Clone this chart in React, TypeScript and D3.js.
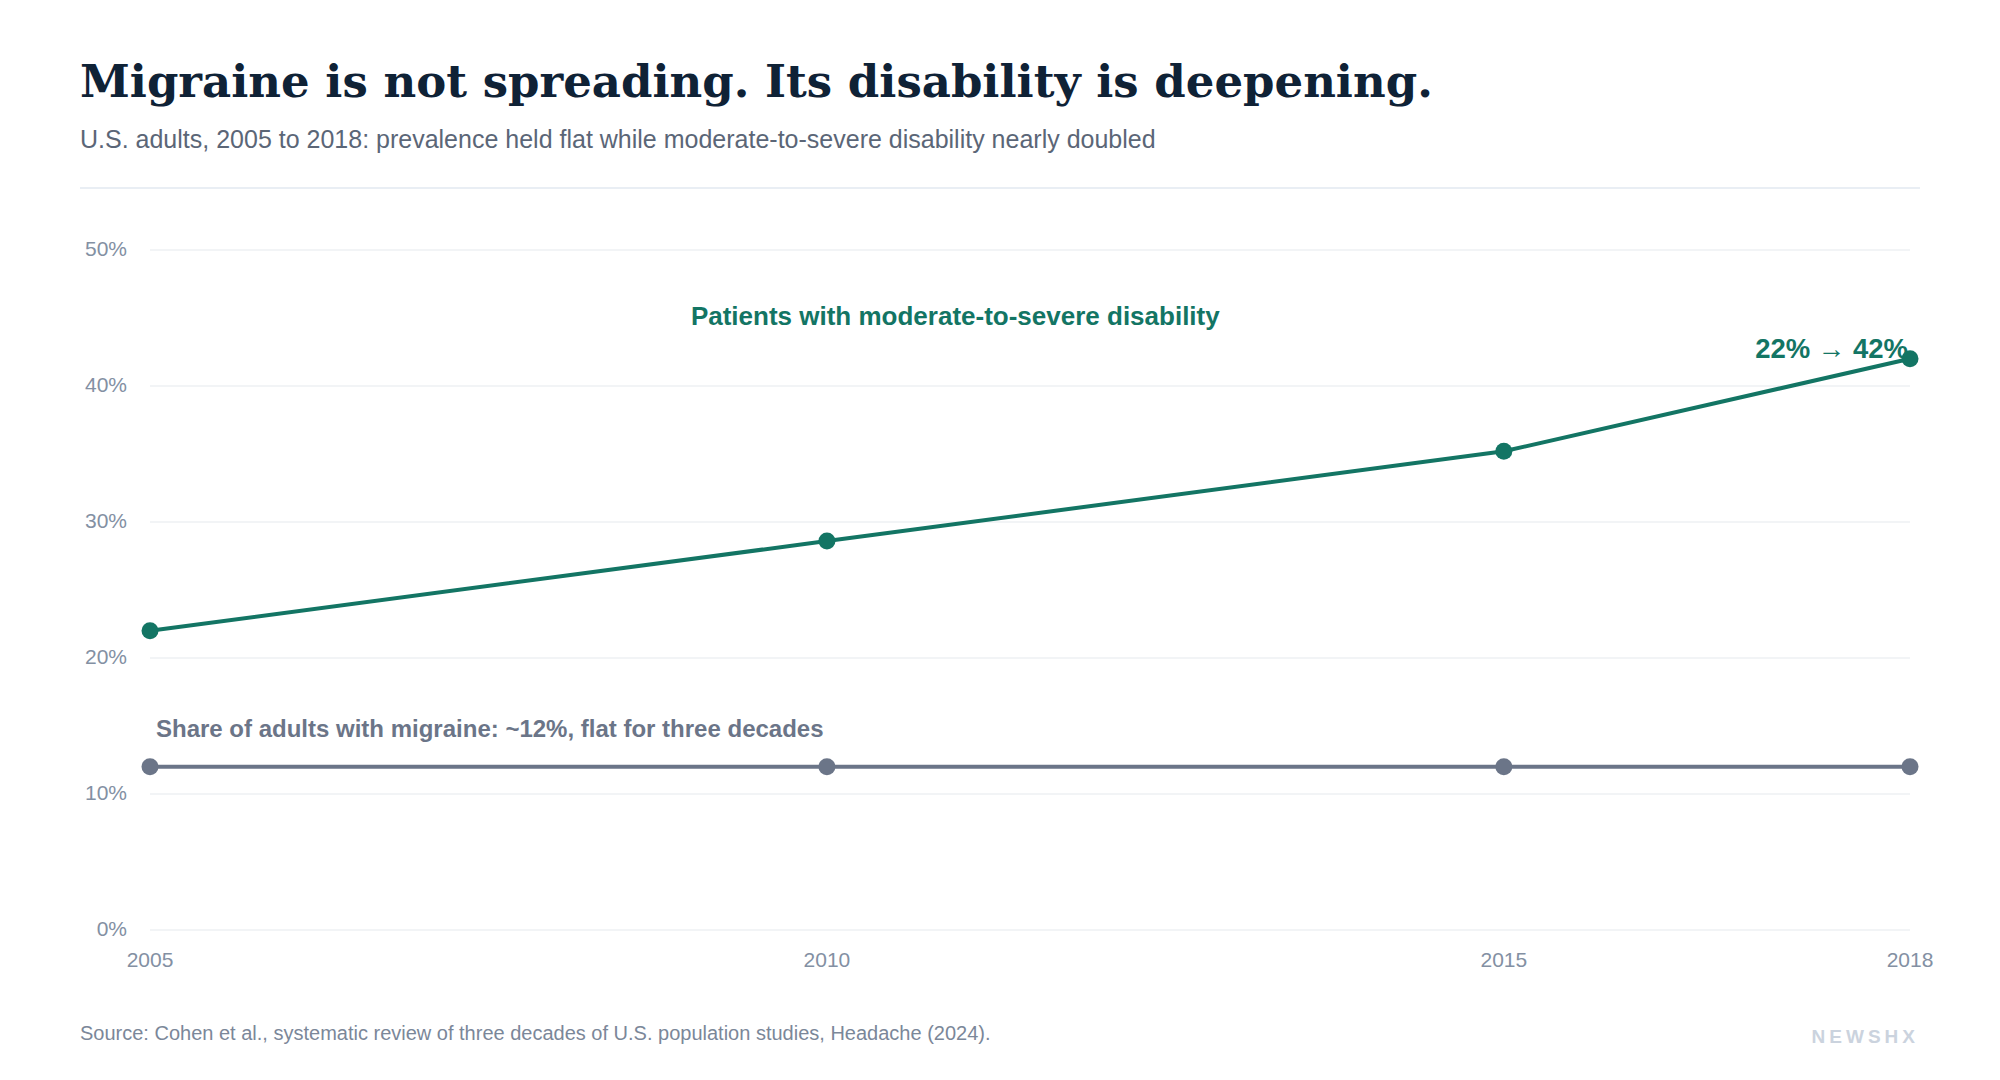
import React from 'react';
import * as d3 from 'd3';

const years = [2005, 2010, 2015, 2018];
const disabilityShare = [22, 28.6, 35.2, 42];
const migraineShare = [12, 12, 12, 12];
const yTicks = [0, 10, 20, 30, 40, 50];

const WIDTH = 2000;
const HEIGHT = 1080;
const GREEN = '#137564';
const SLATE = '#6b7588';
const SANS = "'Liberation Sans', Arial, Helvetica, sans-serif";

const Series = ({ values, color, x, y }) => {
  const line = d3
    .line()
    .x((d, i) => x(years[i]))
    .y((d) => y(d));
  return (
    <g>
      <path d={line(values)} fill="none" stroke={color} strokeWidth="4" strokeLinejoin="round" />
      {values.map((v, i) => (
        <circle key={i} cx={x(years[i])} cy={y(v)} r="8.5" fill={color} />
      ))}
    </g>
  );
};

const App = () => {
  const x = d3.scaleLinear().domain([2005, 2018]).range([150, 1910]);
  const y = d3.scaleLinear().domain([0, 50]).range([930, 250]);
  const last = disabilityShare.length - 1;

  return (
    <div style={{ position: 'fixed', left: 0, top: 0, background: '#fff' }}>
      <svg width={WIDTH} height={HEIGHT} style={{ display: 'block' }}>
        <rect width={WIDTH} height={HEIGHT} fill="#fff" />
        <text
          x="80"
          y="97"
          fontFamily="'DejaVu Serif', Georgia, serif"
          fontWeight="bold"
          fontSize="45"
          fill="#0f2236"
        >
          Migraine is not spreading. Its disability is deepening.
        </text>
        <text x="80" y="148" fontFamily={SANS} fontSize="25" fill="#5b6677">
          U.S. adults, 2005 to 2018: prevalence held flat while moderate-to-severe disability nearly doubled
        </text>
        <line x1="80" x2="1920" y1="188" y2="188" stroke="#e2e8f0" strokeWidth="1.5" />

        {/* grid + y axis */}
        {yTicks.map((t) => (
          <g key={t}>
            <line x1={x(2005)} x2={x(2018)} y1={y(t)} y2={y(t)} stroke="#eef0f3" strokeWidth="1.5" />
            <text
              x="127"
              y={y(t)}
              dy="0.28em"
              textAnchor="end"
              fontFamily={SANS}
              fontSize="21"
              fill="#8390a3"
            >
              {t}%
            </text>
          </g>
        ))}

        {/* x axis labels */}
        {years.map((yr) => (
          <text
            key={yr}
            x={x(yr)}
            y="967"
            textAnchor="middle"
            fontFamily={SANS}
            fontSize="21"
            fill="#8390a3"
          >
            {yr}
          </text>
        ))}

        <Series values={migraineShare} color={SLATE} x={x} y={y} />
        <Series values={disabilityShare} color={GREEN} x={x} y={y} />

        <text
          x={x(2011) - 7}
          y="325"
          textAnchor="middle"
          fontFamily={SANS}
          fontWeight="bold"
          fontSize="26"
          fill={GREEN}
        >
          Patients with moderate-to-severe disability
        </text>
        <text
          x={x(years[last]) - 2}
          y={y(disabilityShare[last]) - 1}
          textAnchor="end"
          fontFamily={SANS}
          fontWeight="bold"
          fontSize="27.5"
          fill={GREEN}
        >
          {disabilityShare[0]}% → {disabilityShare[last]}%
        </text>
        <text
          x="156"
          y="737"
          fontFamily={SANS}
          fontWeight="bold"
          fontSize="24"
          fill={SLATE}
        >
          Share of adults with migraine: ~{migraineShare[0]}%, flat for three decades
        </text>

        <text x="80" y="1040" fontFamily={SANS} fontSize="20" fill="#7b8799">
          Source: Cohen et al., systematic review of three decades of U.S. population studies, Headache (2024).
        </text>
        <text
          x="1919"
          y="1043"
          textAnchor="end"
          fontFamily={SANS}
          fontWeight="bold"
          fontSize="19"
          letterSpacing="4"
          fill="#cbd3de"
        >
          NEWSHX
        </text>
      </svg>
    </div>
  );
};

export default App;
